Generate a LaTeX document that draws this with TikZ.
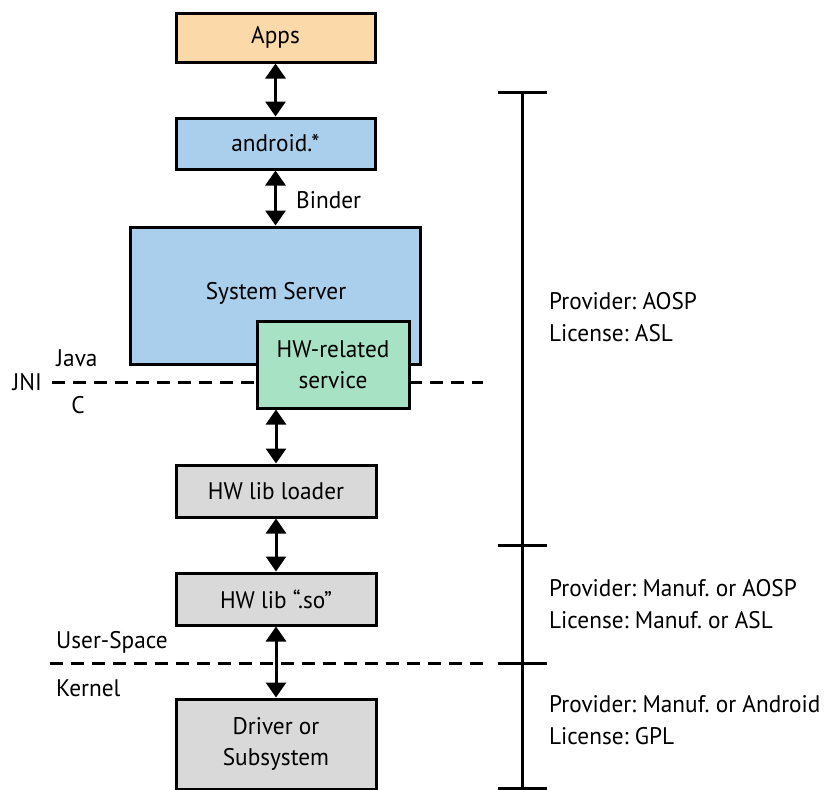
\documentclass[tikz,border=0pt]{standalone}
\usepackage{fontspec}
\setmainfont{PT Sans}[FakeStretch=0.97]
\usetikzlibrary{arrows.meta}
\frenchspacing
\definecolor{appsfill}{HTML}{FCD9A8}
\definecolor{bluefill}{HTML}{AACFEC}
\definecolor{greenfill}{HTML}{A6E2C3}
\definecolor{grayfill}{HTML}{D9D9D9}
\tikzset{
  layer/.style={draw=black, line width=3pt, inner sep=0pt, align=center,
    font=\fontsize{24}{31}\selectfont},
  link/.style={line width=3pt, {Triangle[width=20pt,length=15pt]}-{Triangle[width=20pt,length=15pt]}},
  boundary/.style={line width=3pt, dash pattern=on 13pt off 8pt},
  bar/.style={line width=3pt},
  note/.style={anchor=west, inner sep=0pt, align=left,
    font=\fontsize{24}{32}\selectfont},
  side/.style={inner sep=0pt, font=\fontsize{24}{28}\selectfont}
}
\begin{document}
\frenchspacing
\begin{tikzpicture}[x=1pt,y=-1pt]
\useasboundingbox (0,0) rectangle (828,790);

% stack of layers
\node[layer, fill=appsfill, minimum width=199pt, minimum height=49pt] (apps) at (275.5,37.5) {Apps};
\node[layer, fill=bluefill, minimum width=199pt, minimum height=51pt] (android) at (275.5,143.5) {android.*};
\node[layer, fill=bluefill, minimum width=290pt, minimum height=137pt] (sys) at (275,295.5) {};
\node[inner sep=0pt, font=\fontsize{24}{31}\selectfont] (systxt) at (276,293) {System Server};

% JNI boundary (behind the service box)
\coordinate (jniL) at (52,382);
\coordinate (jniR) at (483,382);
\draw[boundary] (jniL) -- (jniR);

\node[layer, fill=greenfill, minimum width=152pt, minimum height=87pt] (hw) at (333,364.5) {HW-related\\service};
\node[layer, fill=grayfill, minimum width=200pt, minimum height=52pt] (loader) at (276,491) {HW lib loader};
\node[layer, fill=grayfill, minimum width=200pt, minimum height=52pt] (so) at (276,599) {HW lib ``.so''};
\node[layer, fill=grayfill, minimum width=200pt, minimum height=90pt] (driver) at (276,744) {Driver or\\Subsystem};

% user-space / kernel boundary
\coordinate (usL) at (50,663);
\coordinate (usR) at (483,663);
\draw[boundary] (usL) -- (usR);

% connectors
\draw[link] (apps.south) -- (android.north);
\draw[link] (android.south) -- (sys.north -| android.south);
\draw[link] (loader.north |- hw.south) -- (loader.north);
\draw[link] (loader.south) -- (so.north);
\draw[link] (so.south) -- (driver.north);

\node[side, anchor=west] (binder) at (296,200) {Binder};

% boundary labels
\node[side, anchor=east] (jni) at (42,382) {JNI};
\node[side] (java) at (77,358) {Java};
\node[side] (clang) at (78,405) {C};
\node[side, anchor=west] (user) at (56,642) {User-Space};
\node[side, anchor=west] (kernel) at (56,688) {Kernel};

% provider / license bar
\coordinate (b0) at (522,92);
\coordinate (b1) at (522,545);
\coordinate (b2) at (522,663);
\coordinate (b3) at (522,788);
\draw[bar] (b0) -- (b3);
\foreach \t in {b0,b1,b2,b3}
  \draw[bar] ([xshift=-24pt]\t) -- ([xshift=25pt]\t);

\node[note] (n1) at (549,317) {Provider: AOSP\\License: ASL};
\node[note] (n2) at (549,604) {Provider: Manuf. or AOSP\\License: Manuf. or ASL};
\node[note] (n3) at (549,720) {Provider: Manuf. or Android\\License: GPL};
\end{tikzpicture}
\end{document}
